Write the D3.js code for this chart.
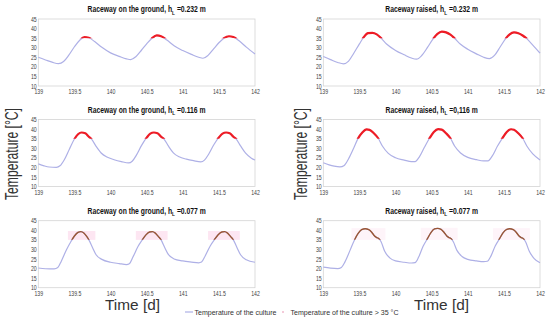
<!DOCTYPE html>
<html>
<head>
<meta charset="utf-8">
<script src="https://cdn.jsdelivr.net/npm/d3@7"></script>
<style>
body { margin: 0; background: #fff; }
svg { display: block; font-family: "Liberation Sans", Arial, sans-serif; }
</style>
</head>
<body>
<svg id="chart" width="550" height="321"></svg>
<script>
// Culture temperature, [day, °C]
var groundHigh = [[139.00,25.0],[139.10,23.6],[139.20,22.3],[139.28,21.7],[139.35,22.8],[139.42,26.0],[139.50,30.5],[139.57,33.8],[139.64,35.5],[139.70,35.2],[139.78,33.2],[139.88,30.2],[140.00,27.3],[140.12,25.5],[140.22,24.2],[140.28,23.8],[140.35,25.3],[140.43,28.8],[140.50,32.0],[140.57,34.8],[140.64,36.4],[140.70,36.0],[140.78,34.0],[140.88,31.0],[141.00,28.5],[141.12,26.5],[141.22,25.0],[141.28,24.5],[141.35,26.0],[141.43,29.5],[141.50,32.6],[141.57,35.0],[141.64,36.0],[141.70,35.6],[141.78,33.6],[141.88,30.3],[142.00,26.7]];
var raisedHigh = [[139.00,25.4],[139.10,23.8],[139.20,22.3],[139.28,21.6],[139.35,23.0],[139.42,27.0],[139.50,32.0],[139.56,35.5],[139.62,37.6],[139.68,37.8],[139.74,37.0],[139.80,35.0],[139.88,31.8],[140.00,28.6],[140.12,26.3],[140.22,24.6],[140.29,24.0],[140.36,25.8],[140.44,30.0],[140.52,34.6],[140.58,37.2],[140.64,38.4],[140.70,38.0],[140.76,36.8],[140.82,34.8],[140.90,31.8],[141.00,29.2],[141.12,26.8],[141.22,25.0],[141.30,24.3],[141.37,26.0],[141.45,30.5],[141.53,35.0],[141.58,37.0],[141.64,38.0],[141.70,37.6],[141.76,36.4],[141.82,34.6],[141.90,31.4],[142.00,27.2]];
var groundMid = [[139.00,21.8],[139.08,20.8],[139.15,20.2],[139.25,20.0],[139.30,20.8],[139.36,24.0],[139.43,29.5],[139.50,34.8],[139.55,37.3],[139.60,38.2],[139.65,37.8],[139.70,36.0],[139.74,34.6],[139.80,31.0],[139.87,27.5],[139.95,25.4],[140.05,24.0],[140.15,23.0],[140.25,22.3],[140.30,23.2],[140.36,26.5],[140.43,31.5],[140.50,35.5],[140.55,37.6],[140.60,38.2],[140.65,37.8],[140.70,36.0],[140.74,34.8],[140.80,31.2],[140.87,27.6],[140.95,25.5],[141.05,24.3],[141.15,23.5],[141.25,22.9],[141.30,23.8],[141.36,27.0],[141.43,31.8],[141.50,35.6],[141.55,37.6],[141.60,38.2],[141.65,37.8],[141.70,36.0],[141.74,34.8],[141.80,31.2],[141.87,27.4],[141.95,24.8],[142.00,23.8]];
var raisedMid = [[139.00,22.4],[139.08,21.3],[139.15,20.6],[139.23,20.2],[139.29,21.0],[139.35,24.5],[139.42,30.0],[139.48,35.0],[139.54,38.2],[139.60,39.8],[139.64,39.6],[139.70,37.8],[139.76,35.2],[139.82,31.0],[139.90,27.3],[140.00,25.0],[140.12,23.8],[140.22,23.0],[140.27,23.0],[140.33,25.5],[140.40,30.5],[140.47,35.2],[140.53,38.5],[140.59,40.0],[140.64,39.7],[140.70,37.8],[140.76,35.2],[140.82,31.0],[140.90,27.5],[141.00,25.2],[141.12,24.0],[141.22,23.4],[141.28,23.4],[141.34,26.0],[141.41,31.0],[141.48,35.3],[141.54,38.5],[141.60,39.9],[141.64,39.6],[141.70,37.8],[141.76,35.2],[141.82,31.0],[141.90,27.0],[142.00,23.9]];
var groundLow = [[139.00,20.3],[139.10,19.9],[139.22,19.8],[139.27,20.5],[139.32,24.0],[139.39,29.8],[139.45,34.0],[139.50,37.0],[139.55,38.9],[139.59,39.3],[139.63,38.6],[139.67,36.8],[139.70,35.0],[139.75,31.0],[139.80,27.2],[139.88,24.8],[140.00,23.3],[140.12,22.6],[140.22,22.1],[140.26,22.5],[140.31,26.0],[140.38,31.5],[140.44,35.0],[140.49,37.6],[140.54,39.1],[140.58,39.3],[140.62,38.5],[140.66,36.8],[140.70,35.0],[140.75,31.0],[140.80,27.4],[140.88,25.0],[141.00,24.0],[141.12,23.4],[141.22,23.0],[141.26,23.4],[141.31,26.6],[141.38,31.8],[141.44,35.2],[141.49,37.7],[141.54,39.1],[141.58,39.3],[141.62,38.5],[141.66,36.8],[141.70,35.0],[141.75,31.0],[141.80,27.2],[141.88,24.6],[142.00,23.3]];
var raisedLow = [[139.00,20.7],[139.10,20.2],[139.20,20.0],[139.25,20.6],[139.30,23.5],[139.37,29.5],[139.43,34.8],[139.48,38.2],[139.53,40.3],[139.58,40.8],[139.63,40.3],[139.67,39.0],[139.71,37.0],[139.74,36.2],[139.77,35.6],[139.80,34.0],[139.85,29.0],[139.92,25.6],[140.00,24.0],[140.12,23.3],[140.22,22.9],[140.27,23.1],[140.32,26.0],[140.38,31.5],[140.44,35.5],[140.49,38.8],[140.54,40.7],[140.58,41.0],[140.63,40.5],[140.67,39.0],[140.71,37.0],[140.74,36.2],[140.77,35.6],[140.80,34.0],[140.85,29.5],[140.92,26.3],[141.00,24.8],[141.12,24.0],[141.22,23.6],[141.27,23.8],[141.32,26.5],[141.38,31.8],[141.44,35.6],[141.49,38.8],[141.54,40.5],[141.58,40.8],[141.63,40.3],[141.67,39.0],[141.71,37.0],[141.74,36.2],[141.77,35.6],[141.80,34.0],[141.85,29.2],[141.92,25.2],[142.00,23.0]];

var panelSeries = [groundHigh, raisedHigh, groundMid, raisedMid, groundLow, raisedLow];
var panelNames = ["Raceway on the ground, h", "Raceway raised, h", "Raceway on the ground, h", "Raceway raised, h", "Raceway on the ground, h", "Raceway raised, h"];
var panelDepths = ["=0.232 m", "=0.232 m", "=0.116 m", "=0,116 m", "=0.077 m", "=0.077 m"];
var xTicks = [139, 139.5, 140, 140.5, 141, 141.5, 142];
var yTicks = [10, 15, 20, 25, 30, 35, 40, 45];
var threshold = 35;
var legendLabels = ["Temperature of the culture", "Temperature of the culture > 35 \u00b0C"];

var svg = d3.select('#chart');
var colLeft = [38.3, 323.3];
var rowTop = [19, 119.5, 220.7];
var panelW = 216.7, panelH = 67;
var lineColor = '#aeb0e6';

panelSeries.forEach(function(series, i) {
	var col = i % 2, row = Math.floor(i / 2);
	var g = svg.append('g')
		.attr('transform', 'translate(' + colLeft[col] + ',' + rowTop[row] + ')');

	var x = d3.scaleLinear().domain([139, 142]).range([0, panelW]);
	var y = d3.scaleLinear().domain([10, 45]).range([panelH, 0]);

	g.append('rect')
		.attr('width', panelW).attr('height', panelH)
		.attr('fill', 'none').attr('stroke', '#d4d4d4').attr('stroke-width', 0.8);

	// light boxes behind the hot stretches (bottom row)
	if (row === 2) {
		var groups = [], cur = null;
		series.forEach(function(p) {
			if (p[1] >= threshold) {
				if (!cur) { cur = []; groups.push(cur); }
				cur.push(p);
			} else cur = null;
		});
		g.selectAll('.hot').data(groups).enter().append('rect')
			.attr('x', function(d) { return x(d[0][0] - 0.09); })
			.attr('width', function(d) { return x(d[d.length - 1][0] + 0.09) - x(d[0][0] - 0.09); })
			.attr('y', function(d) { return y(d3.max(d, function(p) { return p[1]; }) + 0.3); })
			.attr('height', function(d) { return y(threshold) - y(d3.max(d, function(p) { return p[1]; }) + 0.3); })
			.attr('fill', col === 0 ? '#fde6f2' : '#fef4f9');
	}

	var line = d3.line()
		.x(function(d) { return x(d[0]); })
		.y(function(d) { return y(d[1]); })
		.curve(d3.curveMonotoneX);

	g.append('path').datum(series)
		.attr('d', line).attr('fill', 'none')
		.attr('stroke', lineColor).attr('stroke-width', 1.2);

	var clipId = 'hot' + i;
	g.append('clipPath').attr('id', clipId)
		.append('rect').attr('x', 0).attr('y', 0)
		.attr('width', panelW).attr('height', y(threshold));

	g.append('path').datum(series)
		.attr('d', line).attr('fill', 'none')
		.attr('clip-path', 'url(#' + clipId + ')')
		.attr('stroke', row === 2 ? '#9a5532' : '#ee1c25')
		.attr('stroke-width', row === 2 ? 1.4 : 2.2);

	var yAxis = g.append('g')
		.call(d3.axisLeft(y).tickValues(yTicks).tickSize(0).tickPadding(2));
	var xAxis = g.append('g')
		.attr('transform', 'translate(0,' + panelH + ')')
		.call(d3.axisBottom(x).tickValues(xTicks).tickSize(0).tickPadding(3.5)
			.tickFormat(function(d) { return d; }));
	[yAxis, xAxis].forEach(function(a) {
		a.select('.domain').remove();
		a.selectAll('text')
			.attr('fill', '#444')
			.style('font-size', '6.5px')
			.attr('transform', 'scale(0.8,1)');
	});

	var title = g.append('text')
		.attr('transform', 'translate(' + panelW / 2 + ',-7) scale(0.8,1)')
		.attr('text-anchor', 'middle')
		.style('font-size', '8.5px').style('font-weight', 'bold')
		.attr('fill', '#111');
	title.append('tspan').text(panelNames[i]);
	title.append('tspan').attr('dy', 2.5).style('font-size', '6px').text('L');
	title.append('tspan').attr('dy', -2.5).text(' ' + panelDepths[i]);
});

// axis titles
[[18, 154], [307, 154]].forEach(function(p) {
	svg.append('text')
		.attr('transform', 'translate(' + p[0] + ',' + p[1] + ') rotate(-90)')
		.attr('text-anchor', 'middle')
		.attr('textLength', 92).attr('lengthAdjust', 'spacingAndGlyphs')
		.style('font-size', '18px').attr('fill', '#333')
		.text('Temperature [\u00b0C]');
});
[[132.5, 310], [441.5, 310]].forEach(function(p) {
	svg.append('text')
		.attr('x', p[0]).attr('y', p[1])
		.attr('text-anchor', 'middle')
		.attr('textLength', 55).attr('lengthAdjust', 'spacingAndGlyphs')
		.style('font-size', '14px').attr('fill', '#333')
		.text('Time [d]');
});

// legend
var legend = svg.append('g').attr('transform', 'translate(185,312)');
legend.append('line').attr('x1', 0).attr('x2', 8)
	.attr('stroke', lineColor).attr('stroke-width', 1.2);
legend.append('text').attr('x', 9.5).attr('y', 2.5)
	.attr('textLength', 82).attr('lengthAdjust', 'spacingAndGlyphs')
	.style('font-size', '7.5px').attr('fill', '#333').text(legendLabels[0]);
legend.append('circle').attr('cx', 98).attr('cy', 0).attr('r', 1)
	.attr('fill', '#f0b8cc');
legend.append('text').attr('x', 105.5).attr('y', 2.5)
	.attr('textLength', 108).attr('lengthAdjust', 'spacingAndGlyphs')
	.style('font-size', '7.5px').attr('fill', '#333').text(legendLabels[1]);
</script>
</body>
</html>
